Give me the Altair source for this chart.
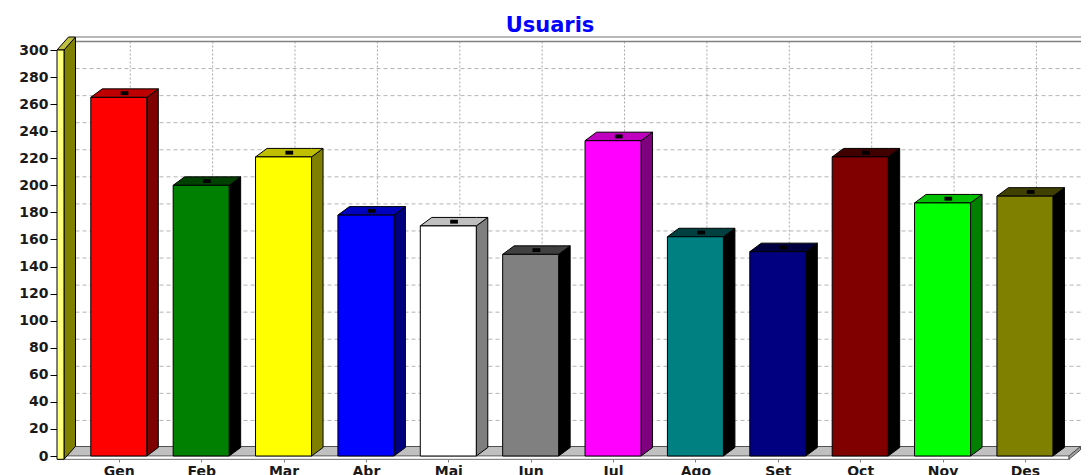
import json
import altair as alt
import pandas as pd

# ---------------- data ----------------
months = ["Gen", "Feb", "Mar", "Abr", "Mai", "Jun", "Jul", "Ago", "Set", "Oct", "Nov", "Des"]
users = [265, 200, 221, 178, 170, 149, 233, 162, 151, 221, 187, 192]
front_colors = ["#FF0000", "#008000", "#FFFF00", "#0000FF", "#FFFFFF", "#808080",
                "#FF00FF", "#008080", "#000080", "#800000", "#00FF00", "#808000"]
top_colors = ["#BF0000", "#004000", "#BFBF00", "#0000BF", "#BFBFBF", "#404040",
              "#BF00BF", "#004040", "#000040", "#400000", "#00BF00", "#404000"]
side_colors = ["#7F0000", "#000000", "#7F7F00", "#00007F", "#7F7F7F", "#000000",
               "#7F007F", "#000000", "#000000", "#000000", "#007F00", "#000000"]
y_ticks = list(range(0, 301, 20))

# ---------------- geometry (style) ----------------
W, H = 1012, 406
X_MIN, X_MAX = -0.75, 11.535
Y_MIN, Y_MAX = 0, 300
PX_X = W / (X_MAX - X_MIN)
PX_Y = H / (Y_MAX - Y_MIN)
DX = 11.5 / PX_X          # bar / grid depth
DY = 8.5 / PX_Y
DXW = 11.5 / PX_X         # wall depth
DYW = 13.0 / PX_Y
DYF = 9.5 / PX_Y          # floor depth
HALF = 28 / PX_X          # half bar width
WALL = 7 / PX_X           # wall thickness
BELOW = 3.3 / PX_Y        # floor slab thickness

xs = alt.Scale(domain=[X_MIN, X_MAX], nice=False, zero=False)
ys = alt.Scale(domain=[Y_MIN, Y_MAX], nice=False, zero=False)

label_expr = json.dumps(months) + "[datum.value]"
AX_X = alt.Axis(
    values=list(range(len(months))), labelExpr=label_expr, title=None, grid=False,
    offset=3, domainColor="#808080", tickColor="#808080", tickSize=3,
    labelPadding=2, labelFont="DejaVu Sans", labelFontSize=14, labelFontWeight="bold",
    labelColor="#1A1A1A", labelOverlap=False, labelFlush=False)
AX_Y = alt.Axis(
    values=y_ticks, title=None, grid=False, domainColor="black", tickColor="black",
    tickSize=7, labelPadding=2, labelFont="DejaVu Sans", labelFontSize=14,
    labelFontWeight="bold", labelColor="#1A1A1A", labelOverlap=False, labelFlush=False)


def X(f):
    return alt.X(f, scale=xs, axis=AX_X)


def Y(f, **kw):
    return alt.Y(f, scale=ys, axis=AX_Y, **kw)


def top_face(key, x0, x1, v, color, dx=DX, dy=DY):
    rows = []
    for x in sorted({x0, x0 + dx, x1, x1 + dx}):
        up = v + dy * min(1.0, (x - x0) / dx)
        lo = v + dy * max(0.0, (x - x1) / dx)
        rows.append(dict(k=key, x=x, y=up, y2=lo, c=color))
    return rows


def side_face(key, x1, vb, vt, color, dx=DX, dy=DY):
    return [dict(k=key, x=x1, y=vt, y2=vb, c=color),
            dict(k=key, x=x1 + dx, y=vt + dy, y2=vb + dy, c=color)]


def area_layer(rows, stroke="black", sw=1.0):
    return alt.Chart(pd.DataFrame(rows)).mark_area(
        stroke=stroke, strokeWidth=sw, interpolate="linear", strokeJoin="miter"
    ).encode(
        x=X("x:Q"),
        y=Y("y:Q", stack=None),
        y2="y2:Q",
        detail="k:N",
        fill=alt.Fill("c:N", scale=None),
    )


def rect_layer(rows, stroke="black", sw=1.0):
    return alt.Chart(pd.DataFrame(rows)).mark_rect(stroke=stroke, strokeWidth=sw).encode(
        x=X("x:Q"), x2="x2:Q",
        y=Y("y:Q"), y2="y2:Q",
        fill=alt.Fill("c:N", scale=None),
    )


def rule_layer(rows, color, sw=1.0, dash=None):
    kw = dict(color=color, strokeWidth=sw)
    if dash:
        kw["strokeDash"] = dash
    return alt.Chart(pd.DataFrame(rows)).mark_rule(**kw).encode(
        x=X("x:Q"), x2="x2:Q",
        y=Y("y:Q"), y2="y2:Q",
    )


wall_back_x = X_MIN + WALL + DXW
right_end = X_MAX + DX + 0.4

# back wall
back_wall = rect_layer([dict(x=wall_back_x, x2=right_end, y=DY, y2=Y_MAX + DY, c="#FFFFFF")],
                       stroke="#909090")
h_grid = rule_layer([dict(x=wall_back_x, x2=right_end, y=t + DY, y2=t + DY)
                     for t in y_ticks if 0 < t < Y_MAX], "#B4B4B4", 1, [4, 3])
v_grid = rule_layer([dict(x=i + DX, x2=i + DX, y=DY, y2=Y_MAX + DY) for i in range(len(months))],
                    "#A8A8A8", 1, [2, 2])
top_line1 = rule_layer([dict(x=wall_back_x, x2=right_end, y=Y_MAX + DY, y2=Y_MAX + DY)],
                       "#808080", 1.5)
top_line2 = rule_layer([dict(x=wall_back_x, x2=right_end, y=Y_MAX + DYW, y2=Y_MAX + DYW)],
                       "#B8B8B8", 2)

# left wall
wall_front = rect_layer([dict(x=X_MIN, x2=X_MIN + WALL, y=-BELOW, y2=Y_MAX, c="#FFFF80")])
wall_side = area_layer(side_face("ws", X_MIN + WALL, -BELOW, Y_MAX, "#808000", DXW, DYW))
wall_top = area_layer(top_face("wt", X_MIN, X_MIN + WALL, Y_MAX, "#C0C040", DXW, DYW))
wall_grid = rule_layer([dict(x=X_MIN + WALL, x2=X_MIN + WALL + DXW, y=t, y2=t + DYW)
                        for t in y_ticks if 0 < t < Y_MAX], "#A0A0A0", 0.8)

# floor
floor_top = area_layer(top_face("ft", X_MIN + WALL, X_MAX, 0, "#C0C0C0", DX, DYF), stroke="#505050")
floor_front = rect_layer([dict(x=X_MIN + WALL, x2=X_MAX, y=-BELOW, y2=0, c="#FFFFFF")], stroke="#808080")
floor_side = area_layer(side_face("fs", X_MAX, -BELOW, 0, "#A0A0A0", DX, DYF), stroke="#505050")

# bars
tops, sides, fronts, marks = [], [], [], []
for i, (m, v) in enumerate(zip(months, users)):
    x0, x1 = i - HALF, i + HALF
    tops += top_face(m, x0, x1, v, top_colors[i])
    sides += side_face(m, x1, 0, v, side_colors[i])
    fronts.append(dict(x=x0, x2=x1, y=0, y2=v, c=front_colors[i]))
    marks.append(dict(x=i + DX / 2, y=v + DY / 2))

bar_side = area_layer(sides)
bar_top = area_layer(tops)
bar_front = rect_layer(fronts)
bar_marks = alt.Chart(pd.DataFrame(marks)).mark_point(
    shape="M-1,-0.5L1,-0.5L1,0.5L-1,0.5Z", filled=True, color="black", opacity=1, size=60
).encode(x=X("x:Q"), y=Y("y:Q"))

title = alt.Chart(pd.DataFrame({"t": ["Usuaris"]})).mark_text(
    font="DejaVu Sans", fontSize=21, fontWeight="bold", color="#0000FF",
    align="center", baseline="alphabetic"
).encode(text="t:N", x=alt.value(493), y=alt.value(-18))

chart = alt.layer(
    back_wall, h_grid, v_grid, top_line2, top_line1,
    floor_top, floor_front, floor_side,
    wall_grid, wall_side, wall_top, wall_front,
    bar_side, bar_top, bar_front, bar_marks,
    title,
).properties(
    width=W, height=H,
    autosize=alt.AutoSizeParams(type="none"),
    padding={"left": 49, "top": 42, "right": 12, "bottom": 20},
    background="white",
).configure_view(stroke=None)

chart.save("out.html", embed_options={"renderer": "svg", "actions": False})
